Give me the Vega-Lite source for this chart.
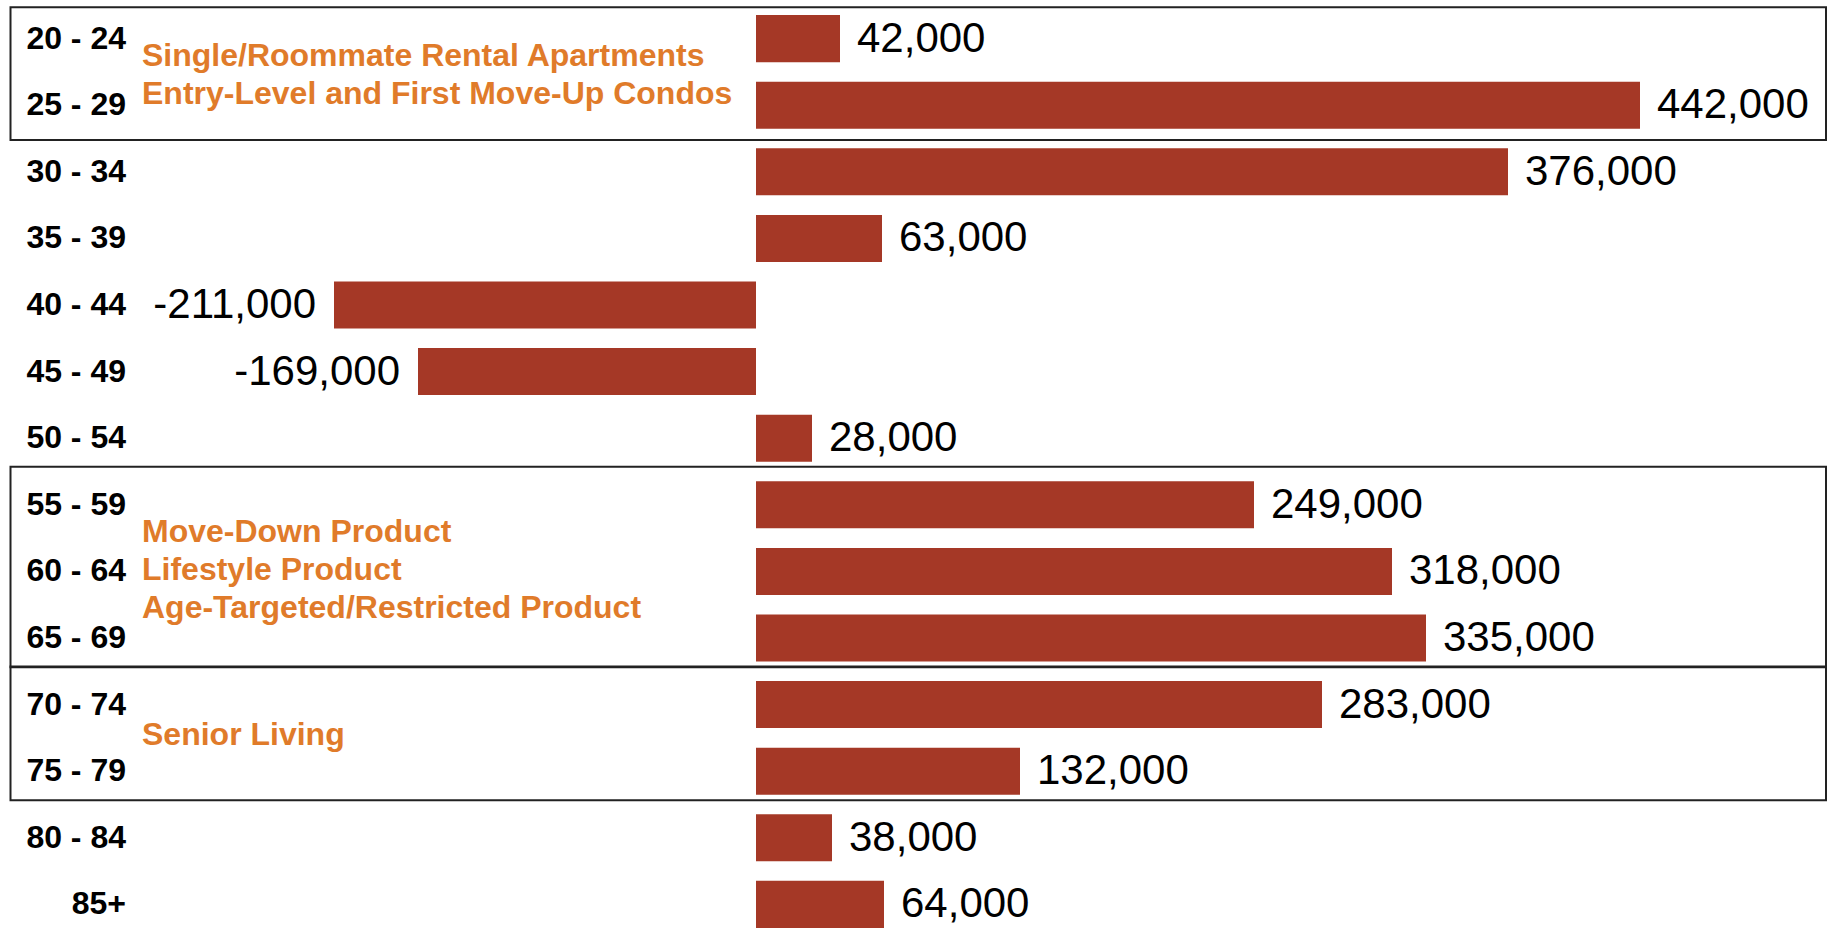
{
  "$schema": "https://vega.github.io/schema/vega-lite/v6.json",
  "width": 1833,
  "height": 943,
  "autosize": "none",
  "padding": 0,
  "background": "white",
  "config": {
    "view": {"stroke": null},
    "locale": {"number": {"decimal": ".", "thousands": ",", "grouping": [3], "currency": ["$", ""], "minus": "-"}}
  },
  "datasets": {
    "ages": [
      {"age": "20 - 24", "change": 42000},
      {"age": "25 - 29", "change": 442000},
      {"age": "30 - 34", "change": 376000},
      {"age": "35 - 39", "change": 63000},
      {"age": "40 - 44", "change": -211000},
      {"age": "45 - 49", "change": -169000},
      {"age": "50 - 54", "change": 28000},
      {"age": "55 - 59", "change": 249000},
      {"age": "60 - 64", "change": 318000},
      {"age": "65 - 69", "change": 335000},
      {"age": "70 - 74", "change": 283000},
      {"age": "75 - 79", "change": 132000},
      {"age": "80 - 84", "change": 38000},
      {"age": "85+", "change": 64000}
    ]
  },
  "layer": [
    {
      "data": {"values": [{"from": "20 - 24", "to": "25 - 29"}]},
      "mark": {"type": "rect", "fill": "transparent", "stroke": "#222222", "strokeWidth": 2},
      "encoding": {
        "y": {"field": "from", "type": "nominal", "bandPosition": -0.166, "axis": null,
              "scale": {"domain": ["20 - 24","25 - 29","30 - 34","35 - 39","40 - 44","45 - 49","50 - 54","55 - 59","60 - 64","65 - 69","70 - 74","75 - 79","80 - 84","85+"], "paddingInner": 0.294, "paddingOuter": 0.227}},
        "y2": {"field": "to", "bandPosition": 1.241},
        "x": {"datum": -372750, "type": "quantitative", "axis": null},
        "x2": {"datum": 535000}
      }
    },
    {
      "data": {"values": [{"from": "55 - 59", "to": "65 - 69"}, {"from": "70 - 74", "to": "75 - 79"}]},
      "mark": {"type": "rect", "fill": "transparent", "stroke": "#222222", "strokeWidth": 2},
      "encoding": {
        "y": {"field": "from", "type": "nominal", "bandPosition": -0.31, "axis": null,
              "scale": {"domain": ["20 - 24","25 - 29","30 - 34","35 - 39","40 - 44","45 - 49","50 - 54","55 - 59","60 - 64","65 - 69","70 - 74","75 - 79","80 - 84","85+"], "paddingInner": 0.294, "paddingOuter": 0.227}},
        "y2": {"field": "to", "bandPosition": 1.12},
        "x": {"datum": -372750, "type": "quantitative", "axis": null},
        "x2": {"datum": 535000}
      }
    },
    {
      "data": {"name": "ages"},
      "mark": {"type": "bar", "color": "#A53826"},
      "encoding": {
        "y": {"field": "age", "type": "nominal", "sort": null, "axis": null,
              "scale": {"domain": ["20 - 24","25 - 29","30 - 34","35 - 39","40 - 44","45 - 49","50 - 54","55 - 59","60 - 64","65 - 69","70 - 74","75 - 79","80 - 84","85+"], "paddingInner": 0.294, "paddingOuter": 0.227}},
        "x": {"field": "change", "type": "quantitative", "axis": null,
              "scale": {"domain": [-378000, 538500], "nice": false, "zero": false}}
      }
    },
    {
      "data": {"name": "ages"},
      "mark": {"type": "text", "align": "right", "baseline": "middle", "font": "Liberation Sans", "fontWeight": "bold", "fontSize": 32, "color": "#000000"},
      "encoding": {
        "y": {"field": "age", "type": "nominal", "sort": null, "axis": null},
        "x": {"datum": -315000, "type": "quantitative", "axis": null},
        "text": {"field": "age"}
      }
    },
    {
      "data": {"name": "ages"},
      "transform": [{"filter": "datum.change >= 0"}],
      "mark": {"type": "text", "align": "left", "baseline": "middle", "dx": 17, "font": "Liberation Sans", "fontSize": 42, "color": "#000000"},
      "encoding": {
        "y": {"field": "age", "type": "nominal", "sort": null, "axis": null},
        "x": {"field": "change", "type": "quantitative", "axis": null},
        "text": {"field": "change", "type": "quantitative", "format": ",.0f"}
      }
    },
    {
      "data": {"name": "ages"},
      "transform": [{"filter": "datum.change < 0"}],
      "mark": {"type": "text", "align": "right", "baseline": "middle", "dx": -18, "font": "Liberation Sans", "fontSize": 42, "color": "#000000"},
      "encoding": {
        "y": {"field": "age", "type": "nominal", "sort": null, "axis": null},
        "x": {"field": "change", "type": "quantitative", "axis": null},
        "text": {"field": "change", "type": "quantitative", "format": ",.0f"}
      }
    },
    {
      "data": {"values": [{"anchor": "20 - 24", "note": ["Single/Roommate Rental Apartments", "Entry-Level and First Move-Up Condos"]}]},
      "mark": {"type": "text", "align": "left", "baseline": "middle", "dy": 17.5, "lineHeight": 37.5, "font": "Liberation Sans", "fontWeight": "bold", "fontSize": 32, "color": "#E07B2A"},
      "encoding": {
        "y": {"field": "anchor", "type": "nominal", "axis": null},
        "x": {"datum": -307000, "type": "quantitative", "axis": null},
        "text": {"field": "note"}
      }
    },
    {
      "data": {"values": [{"anchor": "60 - 64", "note": ["Move-Down Product", "Lifestyle Product", "Age-Targeted/Restricted Product"]}]},
      "mark": {"type": "text", "align": "left", "baseline": "middle", "dy": -39, "lineHeight": 38, "font": "Liberation Sans", "fontWeight": "bold", "fontSize": 32, "color": "#E07B2A"},
      "encoding": {
        "y": {"field": "anchor", "type": "nominal", "axis": null},
        "x": {"datum": -307000, "type": "quantitative", "axis": null},
        "text": {"field": "note"}
      }
    },
    {
      "data": {"values": [{"anchor": "70 - 74", "note": "Senior Living"}]},
      "mark": {"type": "text", "align": "left", "baseline": "middle", "dy": 30, "font": "Liberation Sans", "fontWeight": "bold", "fontSize": 32, "color": "#E07B2A"},
      "encoding": {
        "y": {"field": "anchor", "type": "nominal", "axis": null},
        "x": {"datum": -307000, "type": "quantitative", "axis": null},
        "text": {"field": "note"}
      }
    },
    {
      "mark": {"type": "rule", "color": "#000000", "strokeWidth": 3},
      "encoding": {"x": {"datum": 0, "type": "quantitative", "axis": null}}
    }
  ]
}
